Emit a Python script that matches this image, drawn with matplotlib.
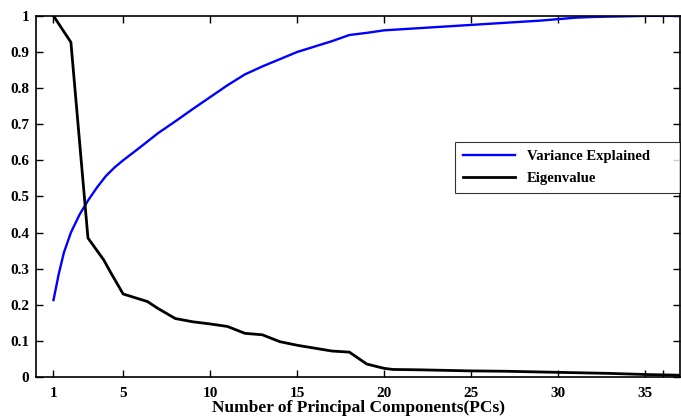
import matplotlib
matplotlib.use('Agg')
import matplotlib.pyplot as plt

# data
var_x = [1, 1.3, 1.6, 2, 2.5, 3, 3.5, 4, 4.5, 5, 6, 7, 8, 9, 10, 11, 12, 13, 14, 15,
         16, 17, 18, 19, 20, 21, 22, 23, 24, 25, 26, 27, 28, 29, 30, 31, 32, 33, 34, 35, 36, 37]
var_y = [0.213, 0.285, 0.345, 0.40, 0.45, 0.49, 0.525, 0.556, 0.58, 0.60, 0.637, 0.675,
         0.708, 0.742, 0.775, 0.808, 0.838, 0.86, 0.88, 0.90, 0.915, 0.93, 0.947, 0.953,
         0.96, 0.963, 0.966, 0.969, 0.972, 0.975, 0.978, 0.981, 0.984, 0.987, 0.991, 0.995,
         0.997, 0.998, 0.999, 1.0, 1.0, 1.0]

eig_x = [1, 2, 2.98, 3.89, 4.28, 5, 6.4, 7, 8, 9, 10, 11, 12, 13, 14, 15, 16, 17, 18,
         19, 20, 20.5, 22, 25, 27, 30, 33, 35, 37]
eig_y = [1.0, 0.927, 0.385, 0.324, 0.29, 0.23, 0.209, 0.19, 0.162, 0.153, 0.147, 0.14,
         0.121, 0.117, 0.098, 0.088, 0.08, 0.072, 0.069, 0.036, 0.024, 0.021, 0.02,
         0.017, 0.016, 0.013, 0.01, 0.007, 0.005]

x_ticks = [1, 5, 10, 15, 20, 25, 30, 35, 36]
x_labels = ['1', '5', '10', '15', '20', '25', '30', '35', '']
y_ticks = [0, 0.1, 0.2, 0.3, 0.4, 0.5, 0.6, 0.7, 0.8, 0.9, 1]
y_labels = ['0', '0.1', '0.2', '0.3', '0.4', '0.5', '0.6', '0.7', '0.8', '0.9', '1']

plt.rcParams['font.family'] = ['Liberation Serif', 'DejaVu Serif']
plt.rcParams['font.weight'] = 'bold'

fig = plt.figure(figsize=(6.81, 4.18), dpi=100)
ax = fig.add_axes([0.053, 0.098, 0.9455, 0.864])

ax.plot(var_x, var_y, color='#0000ff', linewidth=1.7, label='Variance Explained')
ax.plot(eig_x, eig_y, color='black', linewidth=2, label='Eigenvalue')

ax.set_xlim(0, 37)
ax.set_ylim(0, 1)
ax.set_xticks(x_ticks)
ax.set_xticklabels(x_labels)
ax.set_yticks(y_ticks)
ax.set_yticklabels(y_labels)
ax.tick_params(direction='in', top=True, right=True, labelsize=11, length=5, width=1)
ax.tick_params(axis='x', pad=7)
ax.tick_params(axis='y', pad=5)
for s in ax.spines.values():
    s.set_linewidth(1.2)

ax.set_xlabel('Number of Principal Components(PCs)', fontsize=12.5, fontweight='bold', labelpad=0)

leg = ax.legend(loc='lower left', bbox_to_anchor=(0.65, 0.51, 0.35, 0.13), mode='expand',
                fontsize=10.5, frameon=True, fancybox=False, edgecolor='black',
                handlelength=3.6, borderpad=0.55, labelspacing=0.6, borderaxespad=0)
leg.get_frame().set_linewidth(0.8)

fig.savefig('out.png', dpi=100)
